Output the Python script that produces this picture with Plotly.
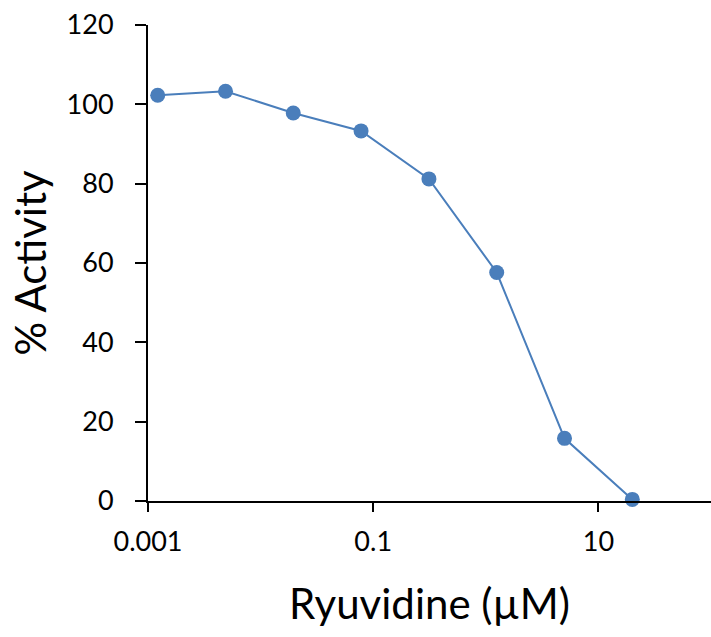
import plotly.graph_objects as go

conc = [0.00122, 0.00488, 0.0195, 0.078, 0.3125, 1.25, 5, 20]
activity = [102.3, 103.3, 97.8, 93.3, 81.2, 57.6, 15.8, 0.4]
x_tickvals = [0.001, 0.1, 10]
x_ticktext = ["0.001", "0.1", "10"]

FONT = "Lato"
color = "#4A7EBB"

fig = go.Figure(go.Scatter(
    x=conc, y=activity, mode="lines+markers",
    line=dict(color=color, width=2),
    marker=dict(color=color, size=15),
    cliponaxis=False,
))

fig.update_layout(
    width=711, height=637,
    margin=dict(l=148, r=0, t=25, b=136),
    plot_bgcolor="white", paper_bgcolor="white",
    showlegend=False,
    font=dict(family=FONT, color="black"),
)
fig.update_xaxes(
    type="log", range=[-3, 2],
    tickvals=x_tickvals, ticktext=x_ticktext,
    ticks="outside", ticklen=9, tickwidth=2, tickcolor="black",
    showline=True, linecolor="black", linewidth=2,
    showgrid=False, zeroline=False,
    tickfont=dict(size=27, family=FONT),
    ticklabelstandoff=7,
    title=dict(text="Ryuvidine (µM)", font=dict(size=42, family=FONT), standoff=33),
)
fig.update_yaxes(
    range=[0, 120], dtick=20,
    ticks="outside", ticklen=11, tickwidth=2, tickcolor="black",
    showline=True, linecolor="black", linewidth=2,
    showgrid=False, zeroline=False,
    tickfont=dict(size=27, family=FONT),
    ticklabelstandoff=16,
    title=dict(text="% Activity", font=dict(size=42, family=FONT), standoff=7),
)

fig.write_html("out.html")
